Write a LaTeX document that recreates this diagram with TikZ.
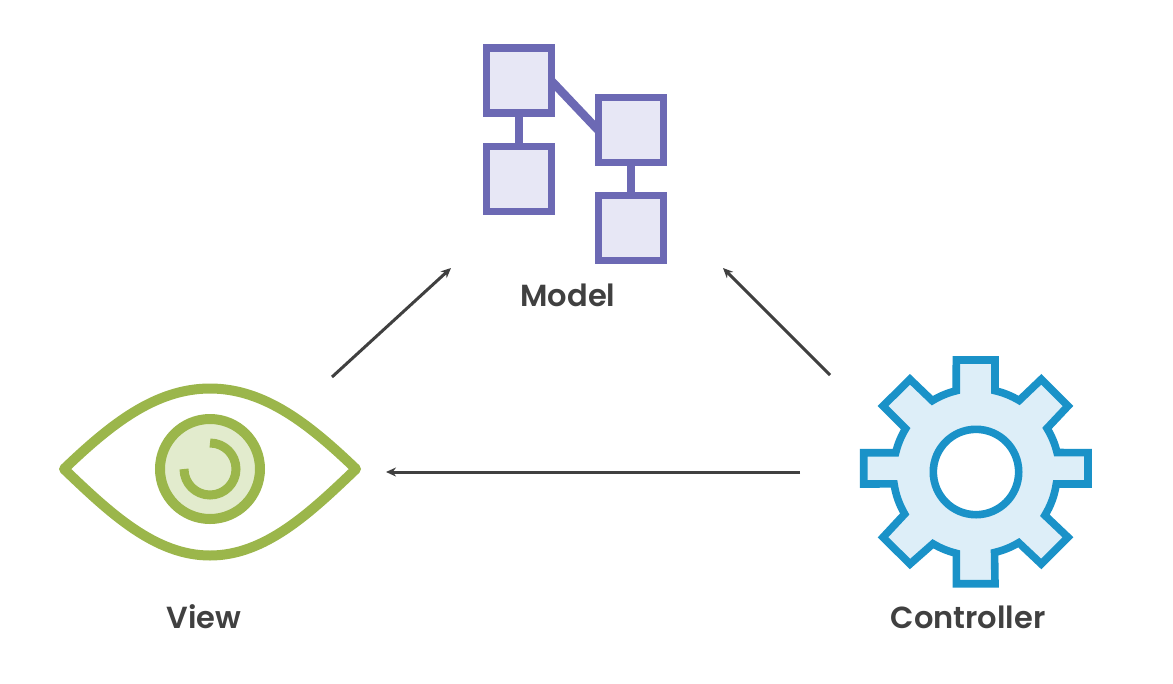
\documentclass[tikz,border=0pt]{standalone}
\usepackage{fontspec}
\setmainfont{Poppins}[BoldFont={Poppins SemiBold}]
\usetikzlibrary{arrows.meta,backgrounds}
\definecolor{mviolet}{HTML}{6C69B4}
\definecolor{mvioletfill}{HTML}{E7E7F5}
\definecolor{mgreen}{HTML}{9BB64B}
\definecolor{mgreenfill}{HTML}{E2EBCD}
\definecolor{mblue}{HTML}{1A92C8}
\definecolor{mbluefill}{HTML}{DDEEF8}
\definecolor{mdark}{HTML}{404040}
\tikzset{
    modelbox/.style={draw=mviolet,fill=mvioletfill,line width=7.5pt,minimum size=65pt,inner sep=0pt},
    modellink/.style={draw=mviolet,line width=7.5pt},
    caption/.style={text=mdark,font=\fontsize{30.5}{36}\selectfont\bfseries},
    flow/.style={draw=mdark,line width=3pt,-{Stealth[length=10pt,width=9pt]}}
}
\begin{document}
\begin{tikzpicture}[x=1pt,y=1pt]
\useasboundingbox (0,0) rectangle (1173,-683);
\foreach \x/\y/\boxname in {519/-80.5/boxa,519/-179/boxb,631/-130/boxc,631/-228/boxd}
{
    \node[modelbox] (\boxname) at (\x,\y){};
}
\begin{scope}[on background layer]
\draw[modellink] (boxa) -- (boxb);
\draw[modellink] (boxc) -- (boxd);
\draw[modellink,line width=8.5pt] ([shift={(-8,4)}]boxa.east) -- ([shift={(8,-5)}]boxc.west);
\end{scope}
% eye
\draw[draw=mgreen,line width=10pt,line join=round] (64,-469)
    .. controls (110,-425) and (155,-388.5) .. (210,-388.5)
    .. controls (265,-388.5) and (310,-425) .. (356,-469)
    .. controls (310,-513) and (265,-555.5) .. (210,-555.5)
    .. controls (155,-555.5) and (110,-513) .. (64,-469) -- cycle;
\draw[draw=mgreen,fill=mgreenfill,line width=10pt] (210,-469) circle (50);
\draw[draw=mgreen,line width=9pt] (210,-443) arc[start angle=90,delta angle=-270,radius=26];
% gear
\begin{scope}[shift={(976,-472)}]
\draw[draw=mblue,fill=mbluefill,line width=7.6pt,line join=miter]
    (-19.7,112)--(19,112)--(19,81.3)
    arc[start angle=77,end angle=59,radius=83.3]
    --(65.3,92.7)--(92,66)--(71,43.7)
    arc[start angle=31.6,end angle=13.5,radius=83.3]
    --(112,19.3)--(112,-12)--(80.3,-12)
    arc[start angle=-8.5,end angle=-31.6,radius=83.3]
    --(92,-65.3)--(65.3,-92)--(42.7,-70.7)
    arc[start angle=-59,end angle=-77,radius=83.3]
    --(19,-111.7)--(-19.7,-111.7)--(-19.7,-81.3)
    arc[start angle=-103.6,end angle=-121,radius=83.3]
    --(-66,-92)--(-93,-65.3)--(-71.3,-42)
    arc[start angle=-149.5,end angle=-171.6,radius=83.3]
    --(-112.3,-12)--(-112.3,19.3)--(-80.3,19.3)
    arc[start angle=166.5,end angle=148.5,radius=83.3]
    --(-93,66)--(-66,92.7)--(-43.7,71.3)
    arc[start angle=121.5,end angle=103.6,radius=83.3]
    --cycle;
\draw[draw=mblue,fill=white,line width=7.6pt] (0,0) circle (42.7);
\end{scope}
\foreach \x/\y/\capname/\captext in {568/-295/model/Model,204/-617/view/View,968/-617/controller/Controller}
{
    \node[caption] (\capname) at (\x,\y){\captext};
}
\coordinate (viewout) at (332,-377);
\coordinate (modelleft) at (451,-268);
\coordinate (ctrlout) at (830,-375);
\coordinate (modelright) at (723,-268);
\coordinate (ctrlleft) at (800,-472);
\coordinate (viewin) at (386,-472);
\draw[flow] (viewout) -- (modelleft);
\draw[flow] (ctrlout) -- (modelright);
\draw[flow] (ctrlleft) -- (viewin);
\end{tikzpicture}
\end{document}
